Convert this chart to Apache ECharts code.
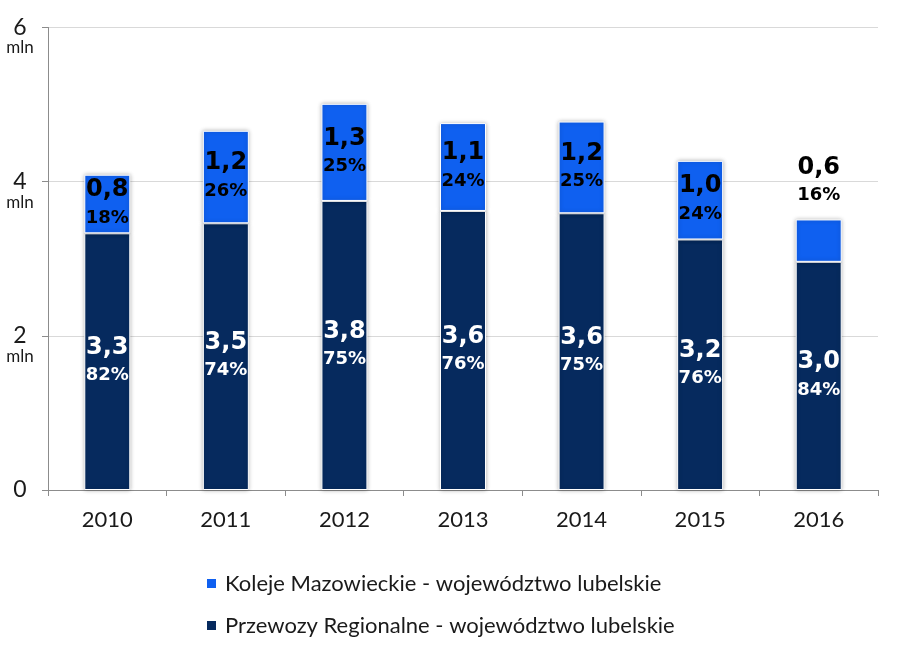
<!DOCTYPE html>
<html><head><meta charset="utf-8">
<script src="https://cdn.jsdelivr.net/npm/echarts@6/dist/echarts.min.js"></script>
<style>html,body{margin:0;padding:0;background:#fff}#c{width:900px;height:653px}</style>
</head><body><div id="c"></div>
<script>
const years = ['2010', '2011', '2012', '2013', '2014', '2015', '2016'];
const przewozy = [3.33, 3.46, 3.75, 3.62, 3.59, 3.25, 2.96];
const koleje = [0.76, 1.20, 1.26, 1.14, 1.19, 1.02, 0.55];
const przewozyText = ['3,3', '3,5', '3,8', '3,6', '3,6', '3,2', '3,0'];
const przewozyPct = ['82%', '74%', '75%', '76%', '75%', '76%', '84%'];
const kolejeText = ['0,8', '1,2', '1,3', '1,1', '1,2', '1,0', '0,6'];
const kolejePct = ['18%', '26%', '25%', '24%', '25%', '24%', '16%'];
const nameKoleje = 'Koleje Mazowieckie - województwo lubelskie';
const namePrzewozy = 'Przewozy Regionalne - województwo lubelskie';
const yUnit = 'mln';

const chart = echarts.init(document.getElementById('c'), null, {renderer: 'canvas'});
const labelRich = (color) => ({
  v: {fontFamily: 'DejaVu Sans', fontWeight: 'bold', fontSize: 24, lineHeight: 28, color: color},
  p: {fontFamily: 'DejaVu Sans', fontWeight: 'bold', fontSize: 18, lineHeight: 28, color: color}
});
const barShadow = {shadowBlur: 4, shadowColor: 'rgba(0,0,0,0.28)', borderColor: '#ffffff', borderWidth: 1};

chart.setOption({
  animation: false,
  backgroundColor: '#ffffff',
  grid: {left: 48, right: 22, top: 25, bottom: 163, containLabel: false},
  legend: {
    orient: 'vertical', left: 205, top: 572, itemGap: 19, padding: 0,
    itemWidth: 11, itemHeight: 11, icon: 'rect',
    data: [nameKoleje, namePrzewozy],
    textStyle: {fontFamily: 'Lato', fontSize: 22, lineHeight: 23, color: '#1a1a1a', padding: [0, 0, 0, 3]}
  },
  xAxis: {
    type: 'category', data: years,
    axisLine: {lineStyle: {color: '#8c8c8c', width: 1}},
    axisTick: {show: true, length: 6, lineStyle: {color: '#8c8c8c'}},
    axisLabel: {fontFamily: 'Lato', fontSize: 22, color: '#1a1a1a', margin: 19}
  },
  yAxis: {
    type: 'value', min: 0, max: 6, interval: 2,
    axisLine: {show: true, lineStyle: {color: '#8c8c8c', width: 1}},
    axisTick: {show: true, length: 6, lineStyle: {color: '#8c8c8c'}},
    splitLine: {lineStyle: {color: '#d9d9d9', width: 1}},
    axisLabel: {
      margin: 28, align: 'center',
      formatter: function (v) {
        if (v === 0) return '{n|0}';
        return '{s| }\n{n|' + v + '}\n{m|' + yUnit + '}';
      },
      rich: {
        s: {fontSize: 14, lineHeight: 19},
        n: {fontFamily: 'Lato', fontSize: 23, lineHeight: 22, color: '#1a1a1a', align: 'center'},
        m: {fontFamily: 'Lato', fontSize: 17, lineHeight: 19, color: '#1a1a1a', align: 'center'}
      }
    }
  },
  series: [
    {
      name: namePrzewozy, type: 'bar', stack: 'total', barWidth: 46,
      data: przewozy,
      itemStyle: Object.assign({color: '#062a5e'}, barShadow),
      label: {
        show: true, position: 'inside',
        formatter: p => '{v|' + przewozyText[p.dataIndex] + '}\n{p|' + przewozyPct[p.dataIndex] + '}',
        rich: labelRich('#ffffff')
      }
    },
    {
      name: nameKoleje, type: 'bar', stack: 'total', barWidth: 46,
      data: koleje.map((v, i) => i === koleje.length - 1
        ? {value: v, label: {position: 'top', distance: 10}}
        : v),
      itemStyle: Object.assign({color: '#0f60f0'}, barShadow),
      label: {
        show: true, position: 'inside',
        formatter: p => '{v|' + kolejeText[p.dataIndex] + '}\n{p|' + kolejePct[p.dataIndex] + '}',
        rich: labelRich('#000000')
      }
    }
  ]
});
</script></body></html>
